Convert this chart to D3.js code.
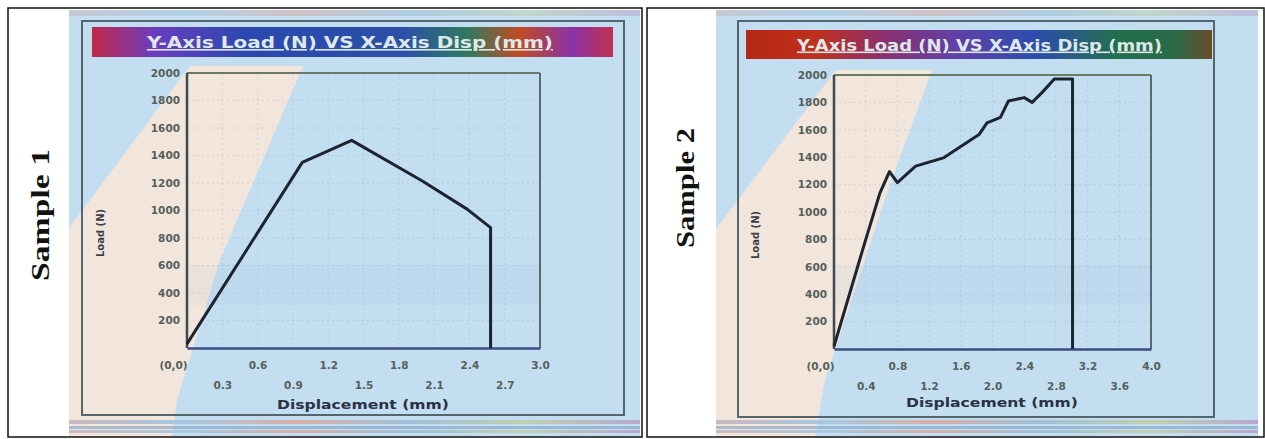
<!DOCTYPE html>
<html><head><meta charset="utf-8">
<script src="https://cdn.jsdelivr.net/npm/d3@7"></script>
<style>body{margin:0;background:#fff}svg{display:block}</style>
</head><body><svg id="c" width="1265" height="439"></svg>
<script>
// ---- data ----
const sample1Disp = [0, 0.98, 1.40, 2.00, 2.38, 2.58, 2.58];
const sample1Load = [30, 1350, 1510, 1215, 1010, 875, 0];
const sample2Disp = [0, 0.38, 0.58, 0.70, 0.80, 1.03, 1.38, 1.58, 1.83, 1.93, 2.10, 2.20, 2.40, 2.50, 2.63, 2.78, 3.01, 3.01];
const sample2Load = [20, 760, 1140, 1295, 1215, 1335, 1395, 1470, 1565, 1650, 1690, 1810, 1835, 1800, 1875, 1970, 1970, 0];
const xTicks1 = [0, 0.3, 0.6, 0.9, 1.2, 1.5, 1.8, 2.1, 2.4, 2.7, 3.0];
const xTickLabels1 = ["(0,0)", "0.3", "0.6", "0.9", "1.2", "1.5", "1.8", "2.1", "2.4", "2.7", "3.0"];
const xTicks2 = [0, 0.4, 0.8, 1.2, 1.6, 2.0, 2.4, 2.8, 3.2, 3.6, 4.0];
const xTickLabels2 = ["(0,0)", "0.4", "0.8", "1.2", "1.6", "2.0", "2.4", "2.8", "3.2", "3.6", "4.0"];
const yTicks = [200, 400, 600, 800, 1000, 1200, 1400, 1600, 1800, 2000];
const yTickLabels = ["200", "400", "600", "800", "1000", "1200", "1400", "1600", "1800", "2000"];
const panelLabels = ["Sample 1", "Sample 2"];
const chartTitle = "Y-Axis Load (N) VS X-Axis Disp (mm)";
const xAxisTitle = "Displacement (mm)";
const yAxisTitle = "Load (N)";

// ---- layout ----
const panels = [
  {id:"a", label: panelLabels[0], disp: sample1Disp, load: sample1Load, xTicks: xTicks1, xLabels: xTickLabels1, xMax: 3.0,
   box:[8,8,642,437], photo:[69,10,640,437], frame:[82,21,624,415], title:[92,27,613,57], titleText:[147,553],
   plot:[187,73,540,348], lab:{x:40, y:215, len:132}, yT:{x:100,y:233}, xT:{x:363,y:409},
   wedge:[[69,228],[190,66],[303,66],[220,260],[177,400],[172,437],[69,437]],
   stops:[["0%","#c02848"],["12%","#6a3cc0"],["30%","#2a48b0"],["60%","#2c50a8"],["72%","#2f7a60"],["82%","#c24a22"],["92%","#8a34a8"],["100%","#c03050"]]},
  {id:"b", label: panelLabels[1], disp: sample2Disp, load: sample2Load, xTicks: xTicks2, xLabels: xTickLabels2, xMax: 4.0,
   box:[647,8,1264,437], photo:[716,10,1258,437], frame:[738,21,1214,417], title:[746,30,1212,59], titleText:[797,1162],
   plot:[834,75,1151,349], lab:{x:685, y:188, len:120}, yT:{x:755,y:235}, xT:{x:992,y:407},
   wedge:[[716,229],[836,70],[932,70],[887,193],[825,380],[815,437],[716,437]],
   stops:[["0%","#b42814"],["15%","#c0301c"],["30%","#8a3070"],["45%","#6040a8"],["62%","#2c4cae"],["80%","#23704c"],["92%","#2a6a48"],["100%","#6a4a2a"]]}
];

const svg = d3.select("#c");
const defs = svg.append("defs");
svg.append("rect").attr("width",1265).attr("height",439).attr("fill","#fff");

panels.forEach(p => {
  const g = svg.append("g");
  // photo background
  const [px0,py0,px1,py1] = p.photo;
  g.append("rect").attr("x",px0).attr("y",py0).attr("width",px1-px0).attr("height",py1-py0).attr("fill","#c4def1");
  g.append("polygon").attr("points", p.wedge.map(d=>d.join(",")).join(" ")).attr("fill","#f2e5dc");
  // slightly darker band in middle
  g.append("rect").attr("x",p.plot[0]).attr("y",265).attr("width",p.plot[2]-p.plot[0]).attr("height",40).attr("fill","#8ab4d8").attr("opacity",0.08);

  // rainbow strip gradient
  const sg = defs.append("linearGradient").attr("id","strip"+p.id);
  [["0%","#c8b8c0"],["20%","#a8c8e0"],["40%","#d8b0a8"],["60%","#a0c0d8"],["80%","#c0d0b0"],["100%","#b8a8d0"]]
    .forEach(s=>sg.append("stop").attr("offset",s[0]).attr("stop-color",s[1]));
  g.append("rect").attr("x",px0).attr("y",py0).attr("width",px1-px0).attr("height",6).attr("fill","url(#strip"+p.id+")").attr("opacity",0.6);
  g.append("rect").attr("x",px0).attr("y",420).attr("width",px1-px0).attr("height",4).attr("fill","url(#strip"+p.id+")");
  g.append("rect").attr("x",px0).attr("y",426).attr("width",px1-px0).attr("height",3).attr("fill","#8aa8c8").attr("opacity",0.7);
  g.append("rect").attr("x",px0).attr("y",430).attr("width",px1-px0).attr("height",3).attr("fill","url(#strip"+p.id+")");

  // inner frame
  const [fx0,fy0,fx1,fy1] = p.frame;
  g.append("rect").attr("x",fx0).attr("y",fy0).attr("width",fx1-fx0).attr("height",fy1-fy0)
    .attr("fill","none").attr("stroke","#56646c").attr("stroke-width",2);

  // title bar
  const tg = defs.append("linearGradient").attr("id","tg"+p.id);
  p.stops.forEach(s=>tg.append("stop").attr("offset",s[0]).attr("stop-color",s[1]));
  const [tx0,ty0,tx1,ty1] = p.title;
  g.append("rect").attr("x",tx0).attr("y",ty0).attr("width",tx1-tx0).attr("height",ty1-ty0).attr("fill","url(#tg"+p.id+")");
  g.append("text").attr("x",p.titleText[0]).attr("y",(ty0+ty1)/2+6)
    .attr("textLength",p.titleText[1]-p.titleText[0]).attr("lengthAdjust","spacingAndGlyphs")
    .attr("font-family","DejaVu Sans, sans-serif").attr("font-weight","bold").attr("font-size",16)
    .attr("fill","#dfe8e8").attr("text-decoration","underline").text(chartTitle);

  // scales
  const [x0,y0,x1,y1] = p.plot;
  const x = d3.scaleLinear().domain([0,p.xMax]).range([x0,x1]);
  const y = d3.scaleLinear().domain([0,2000]).range([y1,y0]);

  // grid
  const grid = g.append("g").attr("stroke","#7890a0").attr("stroke-opacity",0.22).attr("stroke-dasharray","2,3");
  grid.selectAll(".gx").data(p.xTicks.slice(1,-1)).join("line")
    .attr("x1",d=>x(d)).attr("x2",d=>x(d)).attr("y1",y0).attr("y2",y1);
  grid.selectAll(".gy").data(yTicks.slice(0,-1)).join("line")
    .attr("x1",x0).attr("x2",x1).attr("y1",d=>y(d)).attr("y2",d=>y(d));

  // plot frame
  g.append("line").attr("x1",x0).attr("x2",x1).attr("y1",y0).attr("y2",y0).attr("stroke","#6a7a66").attr("stroke-width",2);
  g.append("line").attr("x1",x1).attr("x2",x1).attr("y1",y0).attr("y2",y1).attr("stroke","#5a6870").attr("stroke-width",2);
  g.append("line").attr("x1",x0).attr("x2",x0).attr("y1",y0).attr("y2",y1).attr("stroke","#3e4a4e").attr("stroke-width",2.5);

  // x axis
  const xa = g.append("g").attr("transform",`translate(0,${y1})`)
    .call(d3.axisBottom(x).tickValues(p.xTicks).tickFormat((d,i)=>p.xLabels[i]).tickSize(0).tickPadding(0));
  xa.select(".domain").attr("stroke","#3a4c84").attr("stroke-width",2.5);
  xa.selectAll("text").attr("font-family","DejaVu Sans, sans-serif").attr("font-weight","bold").attr("font-size",10.5)
    .attr("fill","#55605a").attr("dy",null)
    .attr("y",(d,i)=> i%2===0 ? 21 : 41)
    .attr("dx",(d,i)=> i===0 ? -14 : 0);

  // y axis
  const ya = g.append("g").attr("transform",`translate(${x0},0)`)
    .call(d3.axisLeft(y).tickValues(yTicks).tickFormat((d,i)=>yTickLabels[i]).tickSize(0).tickPadding(7));
  ya.select(".domain").remove();
  ya.selectAll("text").attr("font-family","DejaVu Sans, sans-serif").attr("font-weight","bold").attr("font-size",10.5)
    .attr("fill","#55605a");

  // data line
  const pts = p.disp.map((d,i)=>[d,p.load[i]]);
  g.append("path").datum(pts).attr("fill","none").attr("stroke","#1c2430").attr("stroke-width",3)
    .attr("stroke-linejoin","round")
    .attr("d", d3.line().x(d=>x(d[0])).y(d=>y(d[1])));

  // axis titles
  g.append("text").attr("x",p.xT.x).attr("y",p.xT.y).attr("text-anchor","middle")
    .attr("textLength",172).attr("lengthAdjust","spacingAndGlyphs")
    .attr("font-family","DejaVu Sans, sans-serif").attr("font-weight","bold").attr("font-size",12.5)
    .attr("fill","#2a3244").text(xAxisTitle);
  g.append("text").attr("transform",`translate(${p.yT.x+4},${p.yT.y}) rotate(-90)`).attr("text-anchor","middle")
    .attr("font-family","DejaVu Sans, sans-serif").attr("font-weight","bold").attr("font-size",10)
    .attr("fill","#3a4048").text(yAxisTitle);

  // outer panel box
  const [bx0,by0,bx1,by1] = p.box;
  g.append("rect").attr("x",bx0).attr("y",by0).attr("width",bx1-bx0).attr("height",by1-by0)
    .attr("fill","none").attr("stroke","#111").attr("stroke-width",1.5);

  // sample label
  g.append("text").attr("transform",`translate(${p.lab.x+9},${p.lab.y}) rotate(-90)`).attr("text-anchor","middle")
    .attr("textLength",p.lab.len).attr("lengthAdjust","spacingAndGlyphs")
    .attr("font-family","Liberation Serif, serif").attr("font-weight","bold").attr("font-size",26)
    .attr("fill","#111").text(p.label);
});
</script></body></html>
